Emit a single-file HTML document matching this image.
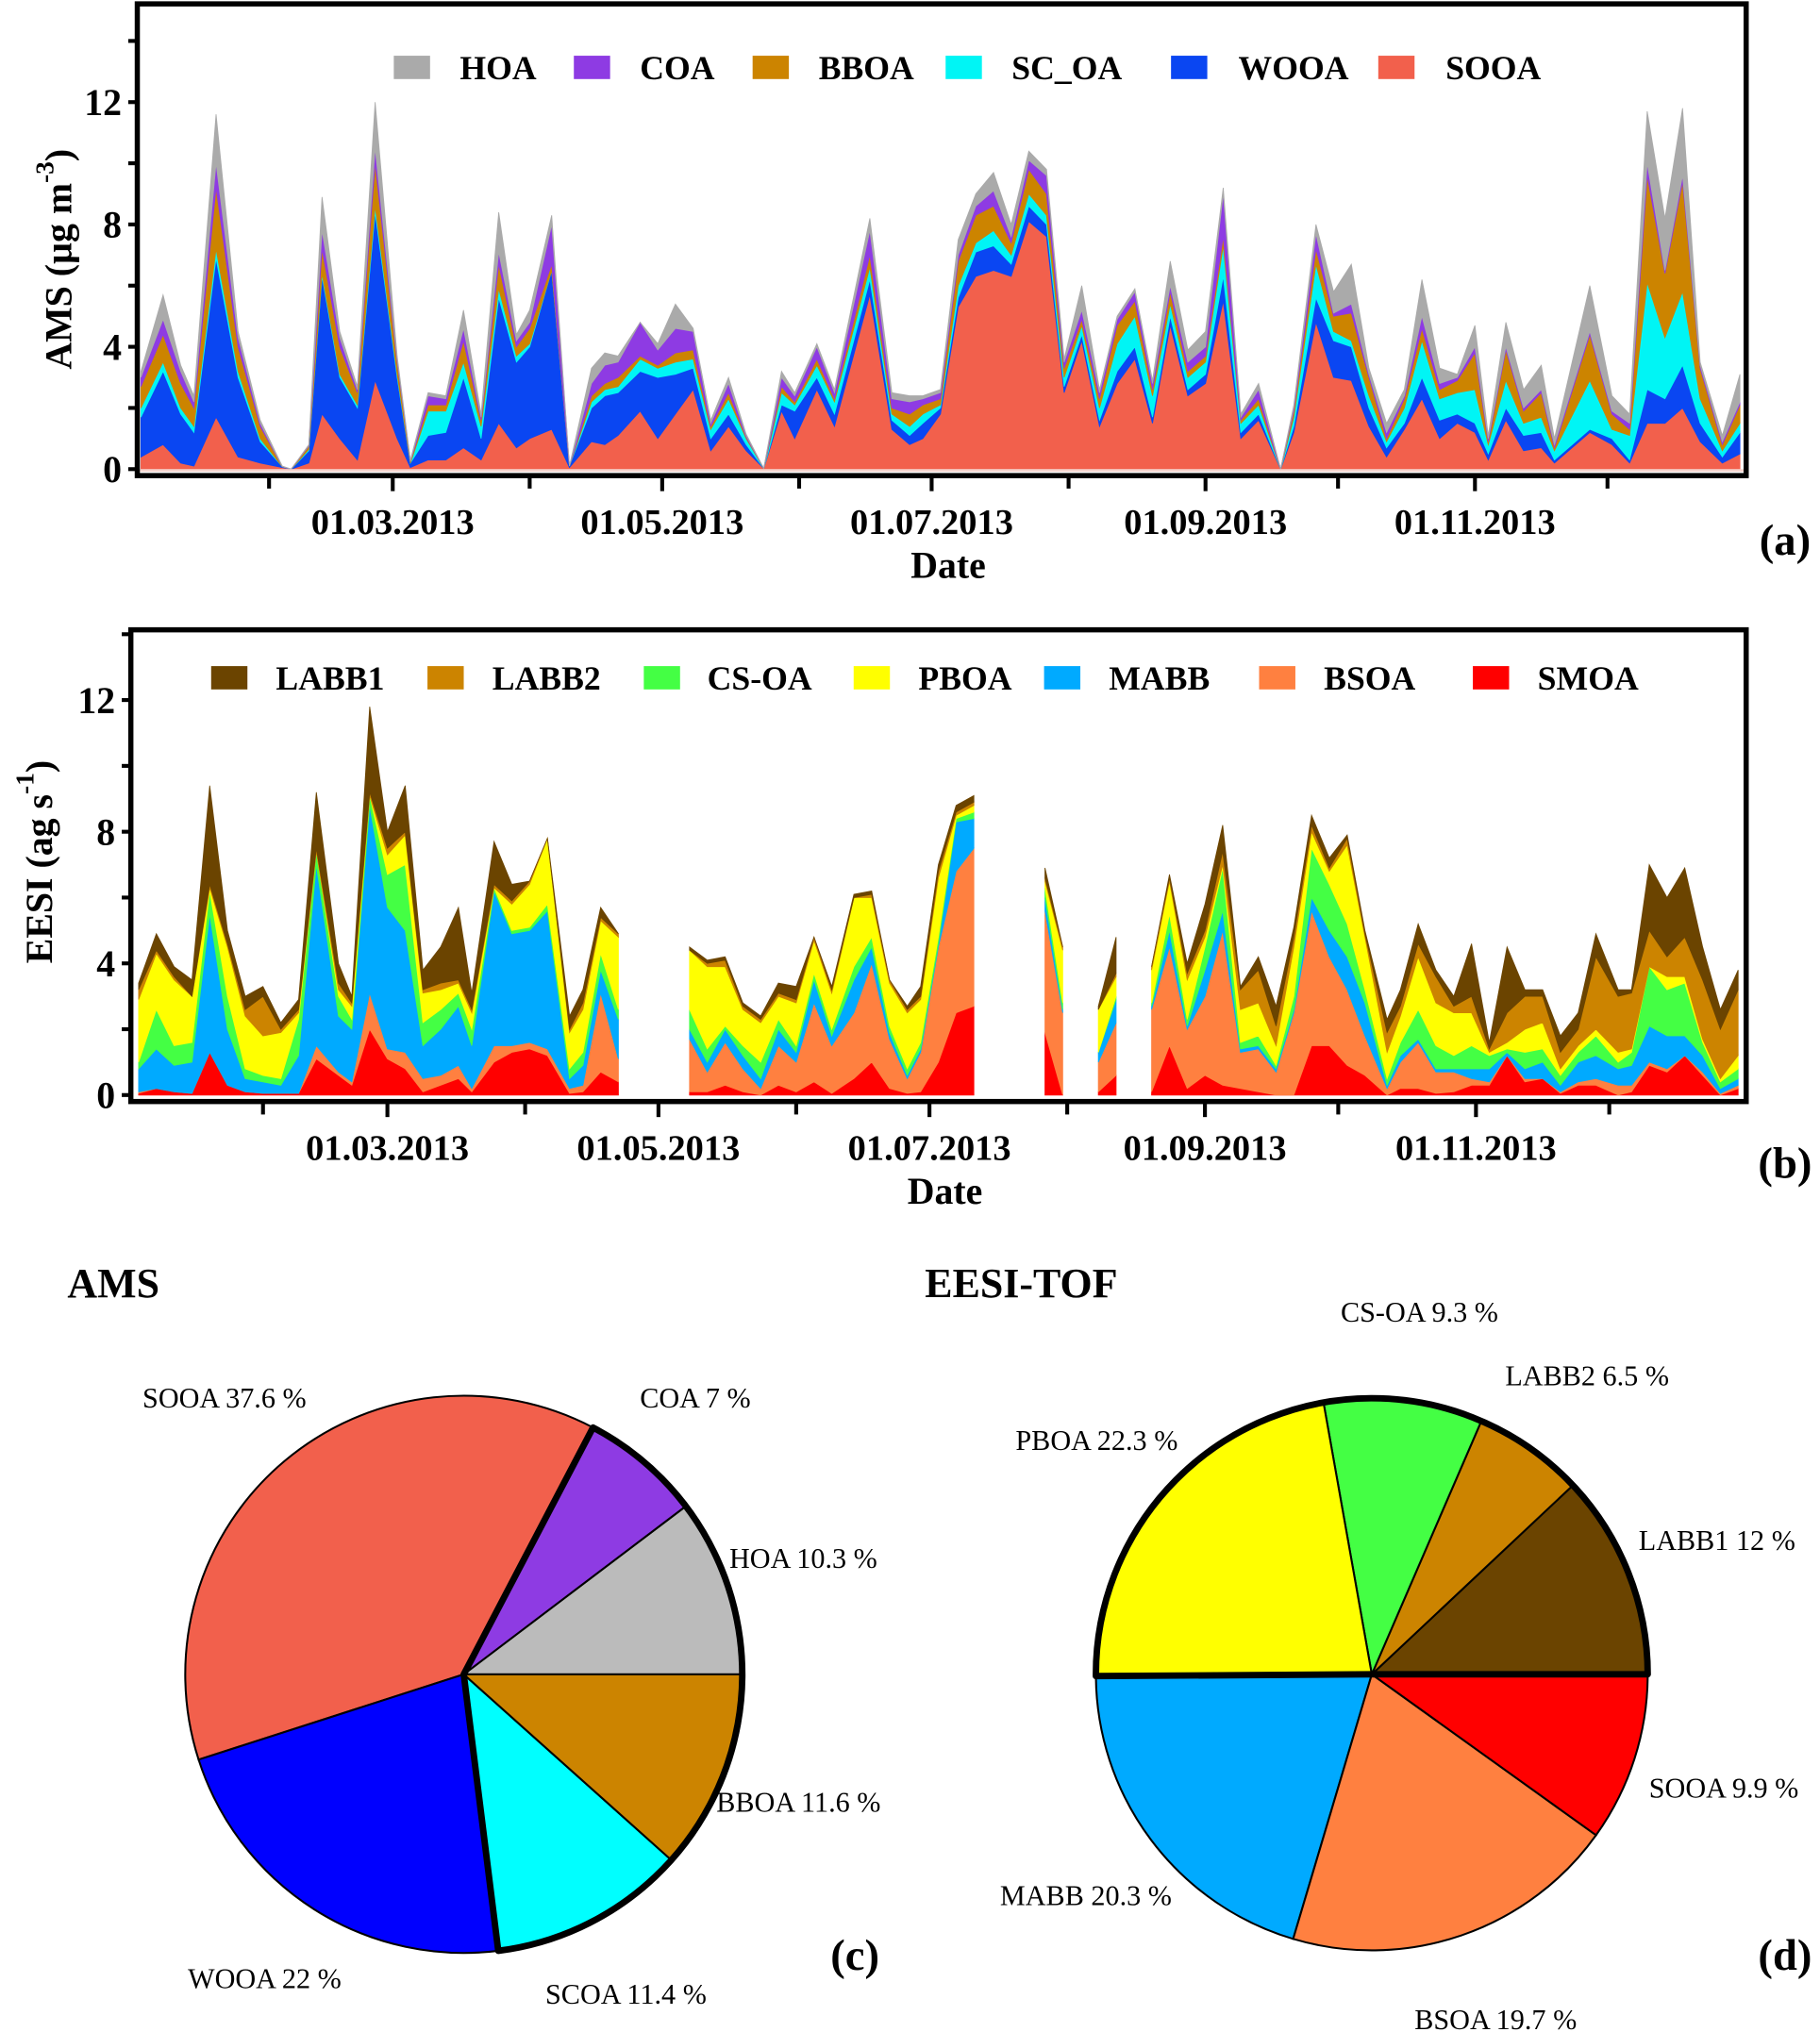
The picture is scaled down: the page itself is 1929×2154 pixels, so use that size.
<!DOCTYPE html>
<html><head><meta charset="utf-8"><style>
html,body{margin:0;padding:0;background:#fff;}
svg{display:block;}
text{font-family:"Liberation Serif",serif;fill:#000;}
.b{font-weight:bold;}
</style></head><body>
<svg id="fig" width="1929" height="2154" viewBox="0 0 1405 1568" preserveAspectRatio="none" xmlns="http://www.w3.org/2000/svg">
<g id="panelA"></g>
<g id="panelB"></g>
<g id="panelC"></g>
<g id="panelD"></g>
</svg>
<script>
// ---------- AMS data (day of year 2013, component concentrations µg m-3) ----------
const amsDays = [2,7,11,14,19,24,29,34,36,40,43,47,51,55,60,63,67,71,75,79,83,87,90,95,99,104,107,110,115,119,123,127,131,135,139,143,147,150,155,159,167,172,176,179,183,187,191,195,199,203,207,211,215,219,223,227,231,235,239,243,247,251,255,260,263,268,272,276,280,284,288,292,296,300,304,307,311,315,319,322,330,335,339,343,347,351,355,360,364];
const amsSOOA = [.4,.8,.2,.1,1.7,.4,.2,.05,0,.2,1.8,1.0,.3,2.9,1,.05,.3,.3,.7,.3,1.5,.7,1.0,1.3,.05,.9,.8,1.1,1.9,1.0,1.8,2.6,.6,1.4,.6,.02,1.9,1.0,2.6,1.4,5.7,1.3,.8,1.0,1.8,5.3,6.3,6.5,6.3,8.1,7.6,2.5,4.2,1.4,2.8,3.6,1.5,4.7,2.4,2.8,5.5,1.0,1.6,0,1.2,4.8,3.0,2.9,1.4,.4,1.3,2.3,1.0,1.5,1.2,.3,1.6,.6,.7,.2,1.2,.8,.2,1.5,1.5,2.0,.9,.2,.5];
const amsWOOA = [1.3,2.4,1.6,1.1,5.2,2.6,.7,.03,0,.4,4.5,2.0,1.7,5.5,2,.15,.8,.9,2.3,.7,4.1,2.8,3.0,5.2,.05,1.1,1.6,1.4,1.3,2.0,1.3,.7,.4,.4,.2,0,.2,.9,.4,.4,.5,.3,.3,.5,.2,.3,.8,.8,.4,.5,.4,.2,.2,.2,.4,.4,.2,.3,.2,.3,.8,.2,.2,0,.2,.8,1.2,1.1,.6,.3,.2,.7,.6,.3,.3,.2,.4,.5,.5,.1,.1,.2,.1,1.1,.8,1.4,.6,.2,.7];
const amsSCOA = [.3,.3,.2,.2,.3,.2,.1,0,0,.05,.1,.1,.1,.2,.1,0,.8,.7,.5,.4,.3,.2,.1,0,0,.2,.2,.2,.4,.3,.4,.3,.3,.5,.2,0,.4,.2,.4,.4,.4,.2,.3,.3,.1,.4,.3,.5,.3,.4,.3,.3,.3,.4,.9,1.0,.7,.4,.4,.4,1.0,.3,.3,0,.3,1.1,.3,.2,.4,.2,.5,1.2,.7,.7,1.1,.3,.9,.4,.5,.3,1.6,.3,.8,3.5,2.0,2.4,.8,.2,.3];
const amsBBOA = [.7,.9,.8,.6,2.0,.8,.4,0,0,.1,.8,.9,.4,1.4,.4,.05,.2,.2,.7,.2,.8,.3,.5,.2,0,.2,.2,.3,.1,.1,.3,.3,.1,.2,.05,0,.2,.1,.2,.1,.4,.2,.4,.3,.2,.8,.9,.8,.4,.8,.7,.3,.2,.3,.6,.5,.2,.4,.2,.2,.3,.1,.2,0,.2,.5,.5,.9,.6,.1,.3,.4,.3,.4,1.2,.1,1.0,.4,.8,.1,1.5,.5,.2,3.5,2.1,3.6,1.0,.2,.6];
const amsCOA = [.3,.5,.4,.2,.8,.3,.1,0,0,.02,.6,.3,.1,.5,.1,0,.3,.2,.4,.1,.4,.2,.2,1.3,0,.4,.6,.5,1.1,.5,.8,.6,.1,.3,.05,0,.3,.2,.4,.2,.8,.3,.4,.2,.2,.2,.3,.5,.2,.3,.6,.2,.3,.2,.2,.3,.2,.2,.3,.3,1.4,.1,.3,0,.1,.5,.1,.3,.1,.2,.1,.4,.2,.1,.2,.1,.1,.1,.1,.1,.1,.1,.2,.4,.1,.2,.1,.1,.1];
const amsHOA = [.2,.8,.2,.2,1.6,.2,.1,.02,0,.03,1.1,.2,.1,1.5,.1,.05,.1,.1,.6,.1,1.3,.2,.4,.3,0,.5,.4,.2,0,.2,.8,.1,.1,.2,.05,0,.2,.1,.1,.1,.4,.2,.2,.1,.1,.5,.4,.6,.4,.3,.2,.1,.8,.1,.1,.1,.1,.8,.4,.5,.2,.1,.2,0,.1,.3,.7,1.3,.2,.3,.2,1.2,.5,.1,.7,.1,.8,.6,.8,.2,1.5,.5,.3,1.7,1.7,2.2,.1,.2,.9];

// ---------- EESI data (cumulative stacked tops, ag s-1; null = no data) ----------
const eesiDays = [3,7,11,15,19,23,27,31,35,39,43,48,51,55,59,63,67,71,75,78,83,87,91,95,100,103,107,111,112,126,127,131,135,139,143,147,151,155,159,164,168,172,176,179,183,187,191,192,206,207,211,212,218,219,223,224,230,231,235,239,243,247,251,255,259,263,267,271,275,279,284,287,291,295,299,303,307,311,315,319,323,327,331,336,339,343,347,351,355,359,363];
const eesiSMOA  = [.05,.2,.1,.05,1.3,.3,.1,.05,.05,.05,1.1,.6,.3,2.0,1.1,.8,.1,.3,.5,.1,1.0,1.3,1.4,1.2,.05,.1,.7,.4,null,null,.1,.1,.3,.1,0,.3,.1,.4,.05,.5,1.0,.2,.05,.1,1.0,2.5,2.7,null,null,1.9,0,null,null,.1,.6,null,null,.1,1.5,.2,.6,.3,.2,.1,0,0,1.5,1.5,.9,.6,0,.2,.2,.05,.1,.3,.3,1.2,.4,.5,.05,.3,.3,0,.1,.9,.7,1.2,.6,0,.2];
const eesiBSOA  = [.1,.2,.1,.05,1.3,.3,.1,.05,.05,.05,1.5,.7,.4,3.1,1.4,1.3,.5,.6,.9,.2,1.5,1.5,1.6,1.4,.2,.3,3.1,1.1,null,null,1.7,.7,1.6,.8,.2,1.5,1.0,2.8,1.5,2.5,4.0,1.7,.5,1.3,4.5,6.8,7.5,null,null,5.6,2.5,null,null,1.0,2.2,null,null,2.6,4.5,2.0,3.0,5.0,1.3,1.4,.7,2.5,5.6,4.2,3.2,1.8,.2,1.0,1.6,.7,.7,.5,.4,1.2,.5,.5,.1,.4,.5,.3,.3,1.0,.8,1.2,.7,.05,.3];
const eesiMABB  = [.8,1.4,.9,1.0,5.5,2.0,.5,.4,.3,1.2,7.0,2.4,2.0,8.8,5.7,5.0,1.5,2.0,2.7,1.5,6.2,4.9,5.0,5.6,.5,.9,3.8,2.3,null,null,2.0,1.0,2.0,1.2,.5,2.0,1.3,3.5,1.8,3.5,4.5,1.9,.6,1.4,4.6,8.3,8.4,null,null,6.0,2.6,null,null,1.3,2.9,null,null,2.7,5.0,2.1,3.8,5.6,1.4,1.5,.8,2.6,6.0,5.0,4.2,2.8,.3,1.2,1.7,.8,.8,.8,.8,1.3,.8,1.0,.3,1.0,1.2,.8,.9,2.1,1.8,1.8,1.2,.2,.5];
const eesiCSOA  = [1.0,2.6,1.5,1.6,6.2,3.0,.8,.6,.5,2.3,7.4,3.0,2.3,9.1,6.7,7.0,2.2,2.6,3.1,2.0,6.3,5.0,5.1,5.8,.8,1.3,4.3,2.6,null,null,2.6,1.4,2.1,1.5,1.0,2.3,1.5,3.7,2.0,3.9,4.8,2.1,.8,1.6,4.8,8.4,8.6,null,null,6.3,2.8,null,null,1.3,3.0,null,null,2.8,5.5,2.3,4.5,6.9,1.6,1.8,.9,3.0,7.5,6.4,5.2,3.2,.5,1.6,2.6,1.5,1.2,1.5,1.2,1.4,1.3,1.4,.6,1.3,1.8,1.0,1.3,3.9,3.2,3.4,1.6,.4,.8];
const eesiPBOA  = [2.9,4.3,3.5,3.0,6.3,4.5,2.4,1.8,1.9,2.5,7.4,3.2,2.7,9.1,7.3,7.9,3.1,3.2,3.4,2.5,6.3,5.8,6.4,7.8,1.9,2.6,5.3,4.8,null,null,4.4,3.9,3.9,2.6,2.2,3.0,2.8,4.7,3.1,6.0,6.0,3.4,2.5,2.9,6.6,8.5,8.8,null,null,6.5,4.4,null,null,2.6,3.6,null,null,3.8,6.5,3.5,4.8,7.0,2.6,2.8,1.5,4.5,8.0,6.8,7.6,4.8,1.3,2.4,4.2,2.8,2.5,2.5,1.3,1.6,2.0,2.2,.8,1.5,2.0,1.3,1.4,3.9,3.6,3.6,1.7,.5,1.2];
const eesiLABB2 = [3.2,4.4,3.6,3.0,6.4,4.6,2.6,3.0,2.0,2.6,7.5,3.4,2.8,9.2,7.5,8.0,3.2,3.4,3.5,2.6,6.4,5.9,6.5,7.8,2.0,2.8,5.4,4.9,null,null,4.4,4.0,4.1,2.7,2.3,3.1,2.9,4.8,3.2,6.0,6.1,3.5,2.6,3.0,6.8,8.6,8.9,null,null,6.6,4.5,null,null,2.6,3.7,null,null,3.9,6.6,3.7,5.0,7.4,3.2,3.8,2.1,4.8,8.2,6.9,7.8,4.9,1.9,2.7,4.6,3.6,2.7,3.0,1.4,2.5,3.0,3.0,1.3,2.0,4.2,3.0,3.1,5.0,4.2,4.8,3.5,2.0,3.2];
const eesiLABB1 = [3.4,4.9,3.9,3.5,9.4,5.0,3.0,3.3,2.2,2.9,9.2,4.0,3.0,11.8,8.0,9.4,3.8,4.5,5.7,3.1,7.7,6.4,6.5,7.8,2.4,3.2,5.7,4.9,null,null,4.5,4.1,4.2,2.8,2.4,3.4,3.3,4.8,3.3,6.1,6.2,3.5,2.7,3.3,7.0,8.8,9.1,null,null,6.9,4.5,null,null,2.7,4.8,null,null,3.9,6.7,4.0,5.8,8.2,3.3,4.2,2.7,5.1,8.5,7.2,7.9,5.0,2.3,3.2,5.2,3.8,3.0,4.6,1.6,4.5,3.2,3.2,1.8,2.5,4.9,3.2,3.2,7.0,6.0,6.9,4.5,2.6,3.8];

// ---------- Pie data ----------
const amsPieLabels = ["HOA","COA","SOOA","WOOA","SCOA","BBOA"];
const amsPieValues = [10.3,7,37.6,22,11.4,11.6];
const eesiPieLabels = ["LABB1","LABB2","CS-OA","PBOA","MABB","BSOA","SOOA"];
const eesiPieValues = [12,6.5,9.3,22.3,20.3,19.7,9.9];

const tickLabels = ["01.03.2013","01.05.2013","01.07.2013","01.09.2013","01.11.2013"];
const monthStarts = [31,59,90,120,151,181,212,243,273,304,334];
const yTicks = [0,4,8,12];

const NS="http://www.w3.org/2000/svg";
function mk(parent,tag,attrs,txt){const e=document.createElementNS(NS,tag);for(const k in attrs)e.setAttribute(k,attrs[k]);if(txt!==undefined)e.textContent=txt;parent.appendChild(e);return e;}

function drawFrame(g,cfg){
  const {L,R,T,B,y0,yPerUnit,x0,xPerDay}=cfg;
  const fr=mk(g,'rect',{x:L,y:T,width:R-L,height:B-T,fill:'none',stroke:'#000','stroke-width':4});
  
  
  for(let v=0;v<=14;v+=2){
    const y=y0-v*yPerUnit;
    const t=mk(g,'line',{x1:L-7,x2:L,y1:y,y2:y,stroke:'#000','stroke-width':3});
    
    
  }
  yTicks.forEach(v=>{
    const y=y0-v*yPerUnit;
    const tl=mk(g,'text',{x:L-12,y:y+10,'text-anchor':'end','font-size':29,class:'b'},String(v));
    
    
  });
  monthStarts.forEach((d,i)=>{
    const x=x0+d*xPerDay;
    const lab=(i%2===1);
    const t=mk(g,'line',{x1:x,x2:x,y1:B,y2:B+(lab?12:10),stroke:'#000','stroke-width':3});
    
    
  });
  [59,120,181,243,304].forEach((d,i)=>{
    const x=x0+d*xPerDay;
    const tl=mk(g,'text',{x:x,y:B+45,'text-anchor':'middle','font-size':28,class:'b'},tickLabels[i]);
    
    
  });
  const dt=mk(g,'text',{x:(L+R)/2+5,y:B+79,'text-anchor':'middle','font-size':29,class:'b'},'Date');
  
  
}

function stackPaths(g,days,layers,colors,names,xf,yf){
  const n=days.length;
  let segs=[];let cur=[];
  for(let i=0;i<n;i++){
    if(layers[0][i]===null){if(cur.length)segs.push(cur);cur=[];}
    else cur.push(i);
  }
  if(cur.length)segs.push(cur);
  layers.forEach((top,li)=>{
    let d='';
    segs.forEach(s=>{
      const pts=s.map(i=>[xf(days[i]),yf(top[i])]);
      const bot=s.map(i=>[xf(days[i]),yf(li===0?0:layers[li-1][i])]).reverse();
      d+='M'+pts.concat(bot).map(p=>p[0].toFixed(1)+','+p[1].toFixed(1)).join('L')+'Z';
    });
    const p=mk(g,'path',{d:d,fill:colors[li],stroke:colors[li],'stroke-width':0.6});
    
    
  });
}

function legend(g,items,y){
  items.forEach(it=>{
    const r=mk(g,'rect',{x:it.bx,y:y,width:28,height:18,fill:it.c});
    
    
    const t=mk(g,'text',{x:it.tx,y:y+18,'font-size':26,class:'b'},it.n);
    
    
  });
}

// ---------- Panel A ----------
(function(){
  const g=document.getElementById('panelA');
  const cfg={L:106,R:1348,T:3,B:367,y0:362,yPerUnit:23.6,x0:102,xPerDay:3.41};
  const xf=d=>cfg.x0+d*cfg.xPerDay, yf=v=>cfg.y0-v*cfg.yPerUnit;
  const comps=[amsSOOA,amsWOOA,amsSCOA,amsBBOA,amsCOA,amsHOA];
  const cum=[];comps.forEach((a,li)=>{cum.push(a.map((v,i)=>v+(li?cum[li-1][i]:0)));});
  stackPaths(g,amsDays,cum,['#f2604c','#0a46f2','#00f5f5','#cc8400','#8e3be3','#aaaaaa'],['sooa','wooa','sc-oa','bboa','coa','hoa'],xf,yf);
  mk(g,'line',{x1:108,x2:1346,y1:363,y2:363,stroke:'#f6d5cf','stroke-width':2});
  drawFrame(g,cfg);
  legend(g,[{n:'HOA',c:'#aaaaaa',bx:304,tx:355},{n:'COA',c:'#8e3be3',bx:443,tx:494},{n:'BBOA',c:'#cc8400',bx:581,tx:632},{n:'SC_OA',c:'#00f5f5',bx:730,tx:781},{n:'WOOA',c:'#0a46f2',bx:904,tx:956},{n:'SOOA',c:'#f2604c',bx:1064,tx:1116}],43);
  const yt=mk(g,'text',{transform:'translate(55,200) rotate(-90)','text-anchor':'middle','font-size':29,class:'b'});
  
  
  yt.innerHTML='AMS (µg m<tspan dy="-14" font-size="20">-3</tspan><tspan dy="14">)</tspan>';
  const pl=mk(g,'text',{x:1378,y:428,'text-anchor':'middle','font-size':34,class:'b'},'(a)');
  
  
})();

// ---------- Panel B ----------
(function(){
  const g=document.getElementById('panelB');
  const cfg={L:101,R:1348,T:486,B:850,y0:845,yPerUnit:25.4,x0:96.7,xPerDay:3.43};
  const xf=d=>cfg.x0+d*cfg.xPerDay, yf=v=>cfg.y0-v*cfg.yPerUnit;
  stackPaths(g,eesiDays,[eesiSMOA,eesiBSOA,eesiMABB,eesiCSOA,eesiPBOA,eesiLABB2,eesiLABB1],['#ff0000','#ff8040','#00aaff','#44ff44','#ffff00','#cc8400','#6b4400'],['smoa','bsoa','mabb','cs-oa','pboa','labb2','labb1'],xf,yf);
  drawFrame(g,cfg);
  legend(g,[{n:'LABB1',c:'#6b4400',bx:163,tx:213},{n:'LABB2',c:'#cc8400',bx:330,tx:380},{n:'CS-OA',c:'#44ff44',bx:497,tx:546},{n:'PBOA',c:'#ffff00',bx:659,tx:709},{n:'MABB',c:'#00aaff',bx:806,tx:856},{n:'BSOA',c:'#ff8040',bx:972,tx:1022},{n:'SMOA',c:'#ff0000',bx:1137,tx:1187}],514);
  const yt=mk(g,'text',{transform:'translate(40,665) rotate(-90)','text-anchor':'middle','font-size':29,class:'b'});
  
  
  yt.innerHTML='EESI (ag s<tspan dy="-14" font-size="20">-1</tspan><tspan dy="14">)</tspan>';
  const pl=mk(g,'text',{x:1378,y:909,'text-anchor':'middle','font-size':34,class:'b'},'(b)');
  
  
})();

// ---------- Pies ----------
function pie(g,cx,cy,r,vals,labels,colors,labelPos){
  const tot=vals.reduce((a,b)=>a+b,0);let a0=0;const angs=[];
  vals.forEach((v,i)=>{
    const a1=a0+v/tot*2*Math.PI;angs.push([a0,a1]);
    const p0=[cx+r*Math.cos(a0),cy-r*Math.sin(a0)],p1=[cx+r*Math.cos(a1),cy-r*Math.sin(a1)];
    const large=(a1-a0)>Math.PI?1:0;
    const s=mk(g,'path',{d:`M${cx},${cy}L${p0[0]},${p0[1]}A${r},${r} 0 ${large} 0 ${p1[0]},${p1[1]}Z`,fill:colors[i],stroke:'#000','stroke-width':1.5});
    
    
    const t=mk(g,'text',{x:labelPos[i][0],y:labelPos[i][1],'font-size':22},labels[i]+' '+v+' %');
    
    
    a0=a1;
  });
  return angs;
}
// thick outline: center -> angle A, arc going clockwise (decreasing angle) to angle B, -> center
function thickOutline(g,cx,cy,r,A,B,closeBack){
  const p0=[cx+r*Math.cos(A),cy-r*Math.sin(A)],p1=[cx+r*Math.cos(B),cy-r*Math.sin(B)];
  let span=A-B; while(span<0)span+=2*Math.PI;
  const large=span>Math.PI?1:0;
  const o=mk(g,'path',{d:`M${cx},${cy}L${p0[0]},${p0[1]}A${r},${r} 0 ${large} 1 ${p1[0]},${p1[1]}`+(closeBack?'Z':''),fill:'none',stroke:'#000','stroke-width':5,'stroke-linejoin':'round'});
  
  
}
(function(){
  const g=document.getElementById('panelC');
  const t=mk(g,'text',{x:52,y:1001,'font-size':32,class:'b'},'AMS');
  
  
  const angs=pie(g,358,1292,215,amsPieValues,amsPieLabels,['#bbbbbb','#8e3be3','#f2604c','#0000ff','#00ffff','#cc8400'],
    [[563,1210],[494,1086],[110,1086],[145,1534],[421,1546],[553,1398]]);
  // from COA/SOOA boundary clockwise round to WOOA/SCOA boundary
  thickOutline(g,358,1292,215,angs[1][1],angs[4][0],true);
  const pl=mk(g,'text',{x:660,y:1520,'text-anchor':'middle','font-size':34,class:'b'},'(c)');
  
  
})();
(function(){
  const g=document.getElementById('panelD');
  const t=mk(g,'text',{x:714,y:1001,'font-size':32,class:'b'},'EESI-TOF');
  
  
  const angs=pie(g,1059,1292,213,eesiPieValues,eesiPieLabels,['#6b4400','#cc8400','#44ff44','#ffff00','#00aaff','#ff8040','#ff0000'],
    [[1265,1196],[1162,1069],[1035,1020],[784,1119],[772,1470],[1092,1566],[1273,1387]]);
  // top half: from PBOA/MABB boundary (180°) clockwise to 0°
  thickOutline(g,1059,1292,213,angs[3][1],0,true);
  const pl=mk(g,'text',{x:1378,y:1520,'text-anchor':'middle','font-size':34,class:'b'},'(d)');
  
  
})();
</script>
</body></html>
